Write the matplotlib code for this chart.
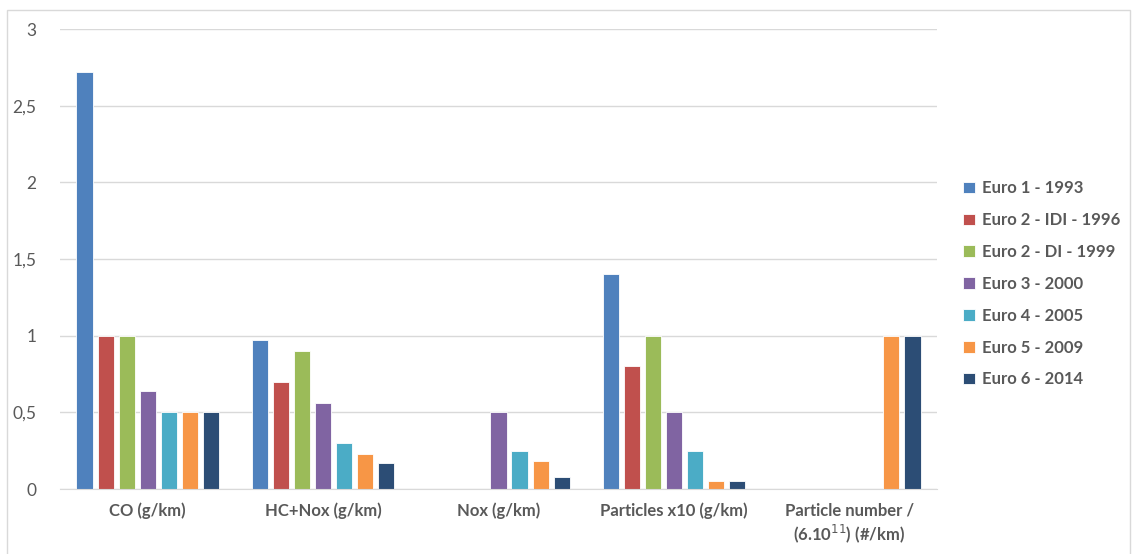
import numpy as np
import matplotlib.pyplot as plt
from matplotlib.patches import Rectangle

plt.rcParams['font.family'] = ['Lato', 'DejaVu Sans']

categories = ['CO (g/km)', 'HC+Nox (g/km)', 'Nox (g/km)', 'Particles x10 (g/km)',
              'Particle number /\n(6.10$^{11}$) (#/km)']
series = ['Euro 1 - 1993', 'Euro 2 - IDI - 1996', 'Euro 2 - DI - 1999', 'Euro 3 - 2000',
          'Euro 4 - 2005', 'Euro 5 - 2009', 'Euro 6 - 2014']
euro1 = [2.72, 0.97, 0, 1.4, 0]
euro2_idi = [1.0, 0.70, 0, 0.8, 0]
euro2_di = [1.0, 0.90, 0, 1.0, 0]
euro3 = [0.64, 0.56, 0.5, 0.5, 0]
euro4 = [0.5, 0.30, 0.25, 0.25, 0]
euro5 = [0.5, 0.23, 0.18, 0.05, 1.0]
euro6 = [0.5, 0.17, 0.08, 0.05, 1.0]
values = [euro1, euro2_idi, euro2_di, euro3, euro4, euro5, euro6]
colors = ['#4F81BD', '#C0504D', '#9BBB59', '#8064A2', '#4BACC6', '#F79646', '#2C4D75']

text_col = '#595959'

fig = plt.figure(figsize=(11.35, 5.54), dpi=100)
fig.patches.append(Rectangle((7/1135, -0.01), 1123/1135, 1 - 10/554 + 0.01,
                             transform=fig.transFigure, fill=False,
                             edgecolor='#D9D9D9', lw=1))
ax = fig.add_axes([60/1135, 1 - 489/554, 877/1135, 460/554])

x = np.arange(len(categories))
step = 0.12
w = 0.092
for i, (vals, name, c) in enumerate(zip(values, series, colors)):
    ax.bar(x + (i - 3) * step, vals, width=w, color=c, label=name,
           edgecolor='white', linewidth=0.6)

ax.set_xlim(-0.5, len(categories) - 0.5)
ax.set_ylim(0, 3)
ax.set_yticks([0, 0.5, 1, 1.5, 2, 2.5, 3])
ax.set_yticklabels(['0', '0,5', '1', '1,5', '2', '2,5', '3'])
ax.set_xticks(x)
ax.set_xticklabels(categories, fontweight='bold')
ax.tick_params(axis='both', length=0, colors=text_col, labelsize=12)
ax.tick_params(axis='x', pad=10)
ax.tick_params(axis='y', pad=17, labelsize=12.5)
ax.yaxis.grid(True, color='#D9D9D9', lw=1)
ax.set_axisbelow(True)
for s in ['top', 'right', 'left']:
    ax.spines[s].set_visible(False)
ax.spines['bottom'].set_color('#D9D9D9')

leg = ax.legend(loc='center left', bbox_to_anchor=(1.013, 0.446), frameon=False,
                prop={'weight': 'bold', 'size': 12}, labelcolor=text_col,
                handlelength=0.7, handleheight=0.7, labelspacing=0.95,
                handletextpad=0.4)

fig.savefig('out.png', dpi=100)
